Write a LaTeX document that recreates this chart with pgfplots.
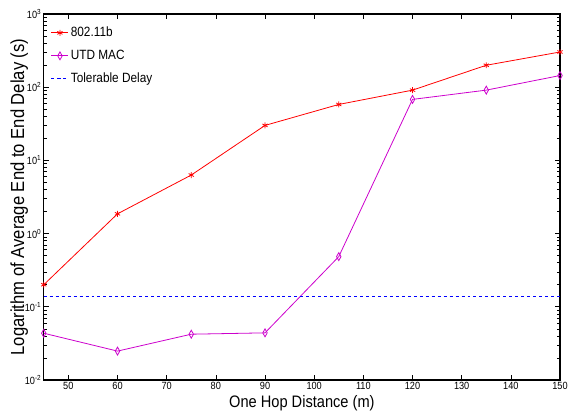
\documentclass[border=0pt]{standalone}
\usepackage{fontspec}
\setmainfont{Liberation Sans}[FakeStretch=0.88]
\usepackage{pgfplots}
\pgfplotsset{compat=1.18}
\definecolor{mag}{rgb}{0.8,0,0.8}
\begin{document}
\begin{tikzpicture}
\begin{axis}[
  name=ax,
  scale only axis,
  width=519pt, height=368pt,
  xmin=45, xmax=150,
  ymode=log, ymin=0.01, ymax=1000,
  xtick={50,60,...,150},
  ytick={0.01,0.1,1,10,100,1000},
  yticklabels={10\textsuperscript{-2},10\textsuperscript{-1},10\textsuperscript{0},10\textsuperscript{1},10\textsuperscript{2},10\textsuperscript{3}},
  /pgf/number format/assume math mode=true,
  tick align=inside,
  tick pos=both,
  major tick length=5pt,
  minor tick length=3pt,
  axis line style={line width=1.2pt},
  every tick/.style={black, line width=0.6pt},
  tick label style={font=\fontsize{10.5}{12}\selectfont},
  xticklabel style={yshift=1pt},
  yticklabel style={xshift=1pt},
  xlabel={One Hop Distance (m)},
  ylabel={Logarithm of Average End to End Delay (s)},
  xlabel style={font=\fontsize{16.7}{18}\selectfont, yshift=1pt},
  ylabel style={font=\fontsize{19}{21}\selectfont, yshift=-10pt},
  legend style={draw=none, fill=none, font=\fontsize{13.5}{15}\selectfont, row sep=8pt, at={(0.008,0.975)}, anchor=north west},
  legend cell align=left,
]
\addplot[red, line width=0.8pt, mark=asterisk, mark size=3pt] coordinates {
  (45,0.20) (60,1.86) (75,6.3) (90,30) (105,58) (120,91) (135,199) (150,302)
};
\addlegendentry{802.11b}
\addplot[mag, line width=0.8pt, mark=diamond, mark size=4pt, mark options={solid, line width=0.8pt, xscale=0.75}] coordinates {
  (45,0.0435) (60,0.0248) (75,0.0422) (90,0.0440) (105,0.484) (120,68) (135,91) (150,144)
};
\addlegendentry{UTD MAC}
\addplot[blue, dashed, line width=0.8pt] coordinates {
  (45,0.138) (150,0.138)
};
\addlegendentry{Tolerable Delay}
\end{axis}
\path ([shift={(-44pt,-35pt)}]ax.south west) rectangle ([shift={(8pt,14pt)}]ax.north east);
\end{tikzpicture}
\end{document}
